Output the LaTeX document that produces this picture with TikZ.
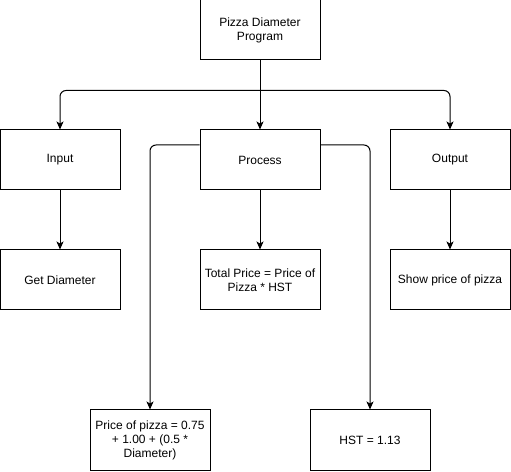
\documentclass[tikz,border=0pt]{standalone}
\usepackage{fontspec}
\setmainfont{Liberation Sans}
\usetikzlibrary{arrows.meta}
\begin{document}
\begin{tikzpicture}[x=1pt,y=1pt,
  box/.style={draw=drawColor,line width=1pt,minimum width=120pt,minimum height=60pt,inner sep=0pt,align=center,font=\fontsize{12}{14}\selectfont},
  link/.style={draw=drawColor,line width=1pt,rounded corners=6pt,-{Stealth[length=8pt,width=7pt,inset=2pt]}}]
\definecolor{drawColor}{RGB}{0,0,0}
\definecolor{fillColor}{RGB}{255,255,255}
\path[use as bounding box,fill=fillColor] (0,0) rectangle (511,471);

\node[box] (prog) at (260,441) {Pizza Diameter\\Program};

\node[box] (inp) at ( 60,311) {Input};
\node[box] (proc) at (260,311) {Process};
\node[box] (outp) at (450,311) {Output};

\node[box] (getd) at ( 60,191) {Get Diameter};
\node[box] (total) at (260,191) {Total Price = Price of\\Pizza * HST};
\node[box] (show) at (450,191) {Show price of pizza};

\node[box] (price) at (150, 31) {Price of pizza = 0.75\\+ 1.00 + (0.5 *\\Diameter)};
\node[box] (hst) at (370, 31) {HST = 1.13};

\coordinate (fork) at ([yshift=-30pt]prog.south);

\draw[link] (prog.south) -- (proc.north);
\draw[link] (fork) -| (inp.north);
\draw[link] (fork) -| (outp.north);

\draw[link] (inp.south) -- (getd.north);
\draw[link] (proc.south) -- (total.north);
\draw[link] (outp.south) -- (show.north);

\draw[link] ([yshift=15pt]proc.west) -| (price.north);
\draw[link] ([yshift=15pt]proc.east) -| (hst.north);
\end{tikzpicture}
\end{document}
